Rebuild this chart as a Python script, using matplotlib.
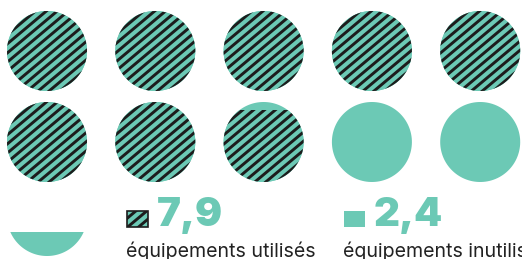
import numpy as np
import matplotlib
matplotlib.use("Agg")
import matplotlib.pyplot as plt
from matplotlib.patches import Polygon, Rectangle
from matplotlib.collections import LineCollection

# data
values = [7.9, 2.4]
value_labels = ["7,9", "2,4"]
labels = ["équipements utilisés", "équipements inutilisés"]

teal = "#6cc9b5"
dark = "#1c1c1c"

# layout (pixels, y down)
W, H = 522, 259
per_row = 5
col_x = [47, 155.3, 263.6, 371.9, 480.2]
row_y = [51, 142, 216]
R = 40
hatch_angle = 40
hatch_step = 7.0
hatch_lw = 2.1

fig = plt.figure(figsize=(W / 100, H / 100), dpi=100)
ax = fig.add_axes([0, 0, 1, 1])
ax.set_xlim(0, W)
ax.set_ylim(H, 0)
ax.axis("off")


def segment(cx, cy, r, frac):
    # bottom part of a circle, filled up to frac of its height
    yc = cy + r - 2 * r * frac
    s = np.clip((yc - cy) / r, -1, 1)
    t = np.linspace(np.arcsin(s), np.pi - np.arcsin(s), 120)
    return np.column_stack([cx + r * np.cos(t), cy + r * np.sin(t)])


def hatch(patch, x0, y0, x1, y1):
    a = np.radians(hatch_angle)
    d = np.array([np.cos(a), -np.sin(a)])
    n = np.array([np.sin(a), np.cos(a)])
    c = np.array([(x0 + x1) / 2, (y0 + y1) / 2])
    L = max(x1 - x0, y1 - y0)
    segs = []
    for k in np.arange(-L, L + hatch_step, hatch_step):
        p = c + n * k
        segs.append([p - d * L, p + d * L])
    lc = LineCollection(segs, colors=dark, linewidths=hatch_lw)
    ax.add_collection(lc)
    lc.set_clip_path(patch)


total = sum(values)
n_circles = int(np.ceil(total))
for i in range(n_circles):
    cx = col_x[i % per_row]
    cy = row_y[i // per_row]
    used = np.clip(values[0] - i, 0, 1)
    full = np.clip(total - i, 0, 1)
    if full > 0:
        ax.add_patch(Polygon(segment(cx, cy, R, full), closed=True,
                             facecolor=teal, edgecolor="none"))
    if used > 0:
        p = Polygon(segment(cx, cy, R, used), closed=True,
                    facecolor=teal, edgecolor="none")
        ax.add_patch(p)
        hatch(p, cx - R, cy - R, cx + R, cy + R)

# legend
leg_x = [127, 344]
for j in range(2):
    x = leg_x[j]
    sq = Rectangle((x, 210.5), 21, 16.5, facecolor=teal, edgecolor="none")
    ax.add_patch(sq)
    if j == 0:
        hatch(sq, x, 210.5, x + 21, 227)
        ax.add_patch(Rectangle((x, 210.5), 21, 16.5, facecolor="none",
                               edgecolor=dark, linewidth=1.2))
    ax.text(x + 29.5, 225.5, value_labels[j], color=teal, fontsize=29,
            fontweight=900, family="Inter", va="baseline", ha="left")
    ax.text(x - 1, 257, labels[j], color="#222222", fontsize=14.1,
            family="Inter", va="baseline", ha="left")

fig.savefig("out.png", dpi=100)
